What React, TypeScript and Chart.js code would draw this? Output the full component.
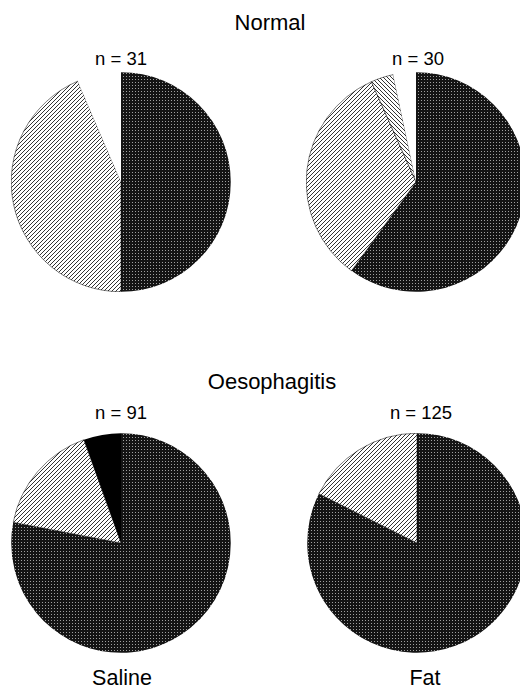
import React, { useEffect, useRef } from 'react';
import { Chart, PieController, ArcElement } from 'chart.js';

Chart.register(PieController, ArcElement);

// ---- Data (share of patients) ----
// slice fills clockwise from 12 o'clock
const normalSalineValues = [15.5, 13.5, 2];
const normalSalineFills = ['dots', 'hatch', 'white'];
const normalFatValues = [18, 10, 1, 1];
const normalFatFills = ['dots', 'hatch', 'back', 'white'];
const oesoSalineValues = [71, 15, 5];
const oesoSalineFills = ['dots', 'hatch', 'black'];
const oesoFatValues = [103, 22];
const oesoFatFills = ['dots', 'hatch'];

const groupTitles = ['Normal', 'Oesophagitis'];
const nLabels = ['n = 31', 'n = 30', 'n = 91', 'n = 125'];
const treatmentLabels = ['Saline', 'Fat'];

function makePattern(kind: string): CanvasPattern | string {
  if (kind === 'white') return '#ffffff';
  if (kind === 'black') return '#000000';
  const c = document.createElement('canvas');
  const ctx = c.getContext('2d')!;
  if (kind === 'dots') {
    c.width = 3;
    c.height = 3;
    ctx.fillStyle = '#141414';
    ctx.fillRect(0, 0, 3, 3);
    ctx.fillStyle = '#a0a0a0';
    ctx.fillRect(1, 1, 1, 1);
  } else {
    c.width = 4;
    c.height = 4;
    ctx.fillStyle = '#ffffff';
    ctx.fillRect(0, 0, 4, 4);
    ctx.fillStyle = '#333333';
    for (let i = 0; i < 4; i++) {
      if (kind === 'hatch') ctx.fillRect(i, 3 - i, 1, 1);
      else ctx.fillRect(i, i, 1, 1);
    }
  }
  return ctx.createPattern(c, 'repeat')!;
}

const SIZE = 220;

function Pie({ values, fills, cx, cy }: { values: number[]; fills: string[]; cx: number; cy: number }) {
  const ref = useRef<HTMLCanvasElement>(null);
  useEffect(() => {
    const chart = new Chart(ref.current!, {
      type: 'pie',
      data: {
        labels: fills,
        datasets: [
          {
            data: values,
            backgroundColor: fills.map(makePattern) as any,
            borderColor: '#000000',
            borderWidth: fills.map((f) => (f === 'hatch' || f === 'back' ? 0.5 : 0)),
          },
        ],
      },
      options: {
        responsive: false,
        animation: false,
        events: [],
        layout: { padding: 0 },
        plugins: { legend: { display: false }, tooltip: { enabled: false } },
      } as any,
    });
    return () => chart.destroy();
  }, []);
  return (
    <canvas
      ref={ref}
      width={SIZE}
      height={SIZE}
      style={{ position: 'absolute', left: cx - SIZE / 2, top: cy - SIZE / 2, width: SIZE, height: SIZE }}
    />
  );
}

function Label({ text, cx, baseline, size }: { text: string; cx: number; baseline: number; size: number }) {
  return (
    <div
      style={{
        position: 'absolute',
        left: cx,
        top: baseline - 0.8465 * size,
        transform: 'translateX(-50%)',
        fontSize: size,
        lineHeight: 1,
        whiteSpace: 'nowrap',
        color: '#000',
      }}
    >
      {text}
    </div>
  );
}

export default function App() {
  return (
    <div
      style={{
        position: 'absolute',
        left: 0,
        top: 0,
        width: 520,
        height: 689,
        overflow: 'hidden',
        background: '#fff',
        fontFamily: '"Liberation Sans", Arial, sans-serif',
      }}
    >
      <Label text={groupTitles[0]} cx={270} baseline={31} size={22} />
      <Label text={nLabels[0]} cx={121} baseline={66} size={18.5} />
      <Label text={nLabels[1]} cx={418} baseline={66} size={18.5} />
      <Pie values={normalSalineValues} fills={normalSalineFills} cx={121} cy={182} />
      <Pie values={normalFatValues} fills={normalFatFills} cx={416} cy={182} />

      <Label text={groupTitles[1]} cx={272} baseline={390} size={22} />
      <Label text={nLabels[2]} cx={121} baseline={420} size={18.5} />
      <Label text={nLabels[3]} cx={421} baseline={420} size={18.5} />
      <Pie values={oesoSalineValues} fills={oesoSalineFills} cx={121} cy={543} />
      <Pie values={oesoFatValues} fills={oesoFatFills} cx={417} cy={543} />

      <Label text={treatmentLabels[0]} cx={122} baseline={686} size={21.5} />
      <Label text={treatmentLabels[1]} cx={425} baseline={686} size={21.5} />
    </div>
  );
}
